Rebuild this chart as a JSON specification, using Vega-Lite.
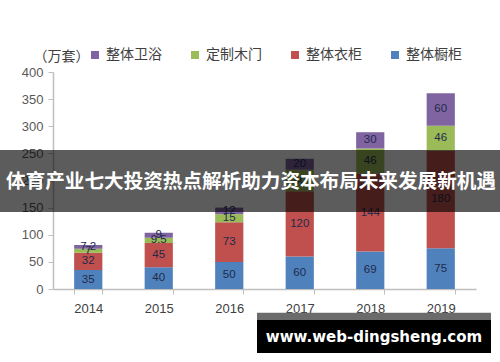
{
  "$schema": "https://vega.github.io/schema/vega-lite/v6.json",
  "width": 423,
  "height": 217,
  "autosize": "none",
  "padding": {"left": 53, "top": 72, "right": 24, "bottom": 73},
  "background": "white",
  "config": {
    "view": {"stroke": null},
    "font": "Noto Sans CJK SC",
    "axisY": {"tickCount": 8, "labelOverlap": false, "grid": false, "titleAngle": 0, "titleAlign": "left", "titleX": -20, "titleY": -16, "titleBaseline": "middle", "titleFontSize": 14, "titleFontWeight": "normal", "titleColor": "#404040", "labelFont": "Liberation Sans", "labelFontSize": 13, "labelColor": "#595959", "labelPadding": 5, "tickColor": "#bfbfbf", "tickSize": 5, "domainColor": "#bfbfbf", "domainWidth": 1.5},
    "axisX": {"labelAngle": 0, "labelFont": "Liberation Sans", "labelFontSize": 13, "labelColor": "#404040", "labelPadding": 8, "tickBand": "extent", "tickColor": "#bfbfbf", "tickSize": 5, "domainColor": "#bfbfbf", "domainWidth": 1.5}
  },
  "layer": [
    {
      "data": {"values": [
        {"year": "2014", "s": "整体橱柜", "v": 35}, {"year": "2014", "s": "整体衣柜", "v": 32}, {"year": "2014", "s": "定制木门", "v": 7}, {"year": "2014", "s": "整体卫浴", "v": 7.2},
        {"year": "2015", "s": "整体橱柜", "v": 40}, {"year": "2015", "s": "整体衣柜", "v": 45}, {"year": "2015", "s": "定制木门", "v": 9.5}, {"year": "2015", "s": "整体卫浴", "v": 9},
        {"year": "2016", "s": "整体橱柜", "v": 50}, {"year": "2016", "s": "整体衣柜", "v": 73}, {"year": "2016", "s": "定制木门", "v": 15}, {"year": "2016", "s": "整体卫浴", "v": 12},
        {"year": "2017", "s": "整体橱柜", "v": 60}, {"year": "2017", "s": "整体衣柜", "v": 120}, {"year": "2017", "s": "定制木门", "v": 40}, {"year": "2017", "s": "整体卫浴", "v": 20},
        {"year": "2018", "s": "整体橱柜", "v": 69}, {"year": "2018", "s": "整体衣柜", "v": 144}, {"year": "2018", "s": "定制木门", "v": 46}, {"year": "2018", "s": "整体卫浴", "v": 30},
        {"year": "2019", "s": "整体橱柜", "v": 75}, {"year": "2019", "s": "整体衣柜", "v": 180}, {"year": "2019", "s": "定制木门", "v": 46}, {"year": "2019", "s": "整体卫浴", "v": 60}
      ]},
      "transform": [
        {"calculate": "indexof(['整体橱柜','整体衣柜','定制木门','整体卫浴'], datum.s)", "as": "o"},
        {"stack": "v", "groupby": ["year"], "sort": [{"field": "o", "order": "ascending"}], "as": ["v0", "v1"]},
        {"calculate": "(datum.v0 + datum.v1) / 2", "as": "mid"}
      ],
      "encoding": {
        "x": {"field": "year", "type": "ordinal", "scale": {"paddingInner": 0.6, "paddingOuter": 0.3}, "title": null}
      },
      "layer": [
        {
          "mark": {"type": "bar"},
          "encoding": {
            "y": {"field": "v0", "type": "quantitative", "scale": {"domain": [0, 400]}, "title": "（万套）"},
            "y2": {"field": "v1"},
            "color": {"field": "s", "type": "nominal",
              "scale": {"domain": ["整体卫浴", "定制木门", "整体衣柜", "整体橱柜"], "range": ["#8064a2", "#9bbb59", "#c0504d", "#4f81bd"]},
              "legend": {"title": null, "orient": "none", "direction": "horizontal", "legendX": 35, "legendY": -24, "symbolType": "square", "symbolSize": 64, "symbolStrokeWidth": 0, "labelFontSize": 14, "labelColor": "#404040", "labelOffset": 4, "columnPadding": 26}},
            "order": {"field": "o", "type": "quantitative"}
          }
        },
        {
          "mark": {"type": "text", "fontSize": 11.5, "font": "Liberation Sans", "color": "#1f2a4a", "baseline": "middle"},
          "encoding": {
            "y": {"field": "mid", "type": "quantitative", "title": "（万套）"},
            "text": {"field": "v", "type": "quantitative"}
          }
        }
      ]
    },
    {
      "data": {"values": [{"t": "体育产业七大投资热点解析助力资本布局未来发展新机遇", "w": "www.web-dingsheng.com"}]},
      "layer": [
        {
          "mark": {"type": "rect", "color": "black", "opacity": 0.64},
          "encoding": {"x": {"value": -53}, "x2": {"value": 447}, "y": {"datum": 256}, "y2": {"datum": 142}}
        },
        {
          "mark": {"type": "text", "color": "white", "fontSize": 19.6, "fontWeight": "bold", "font": "Noto Sans CJK SC", "baseline": "middle", "align": "center"},
          "encoding": {"x": {"value": 198}, "y": {"datum": 197}, "text": {"field": "t"}}
        },
        {
          "mark": {"type": "rect", "color": "#6b6b6b"},
          "encoding": {"x": {"value": 204}, "x2": {"value": 438}, "y": {"datum": -44}, "y2": {"datum": -57}}
        },
        {
          "mark": {"type": "rect", "color": "black"},
          "encoding": {"x": {"value": 204}, "x2": {"value": 438}, "y": {"datum": -57}, "y2": {"datum": -118}}
        },
        {
          "mark": {"type": "text", "color": "white", "fontSize": 15, "fontWeight": "bold", "font": "DejaVu Sans", "baseline": "middle", "align": "center"},
          "encoding": {"x": {"value": 321}, "y": {"datum": -88}, "text": {"field": "w"}}
        }
      ]
    }
  ]
}
